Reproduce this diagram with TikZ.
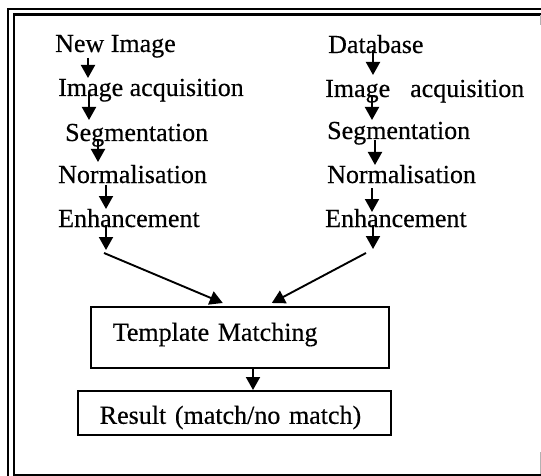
\documentclass[tikz,border=0pt]{standalone}
\usepackage{fontspec}
\setmainfont{Liberation Serif}[FakeBold=0.4]
\usetikzlibrary{arrows.meta,calc}
\begin{document}
\begin{tikzpicture}[x=1pt,y=-1pt,
  font=\fontsize{26}{30}\selectfont,
  lbl/.style={anchor=base west, inner sep=0pt},
  arr/.style={line width=1.9pt, -{Triangle[length=13pt,width=14pt]}},
  box/.style={draw, line width=1.6pt, anchor=north west, inner xsep=22pt, inner ysep=5pt, align=left},
  frame/.style={line width=2.4pt}]
\useasboundingbox (0,0) rectangle (541,476);

% frame
\draw[frame] (8,476) -- (8,9) -- (541,9);
\draw[frame] (541,14.5) -- (14,14.5) -- (14,475) -- (541,475);
\draw[gray!60, line width=1pt] (540,15) -- (540,25);
\draw[gray!60, line width=1pt] (540,452) -- (540,474);

% left column
\node[lbl] (L1) at (55,52) {New Image};
\node[lbl] (L2) at (58,96) {Image acquisition};
\node[lbl] (L3) at (65,141) {Segmentation};
\node[lbl] (L4) at (58,183) {Normalisation};
\node[lbl] (L5) at (58,227) {Enhancement};

% right column
\node[lbl] (R1) at (328,53) {Database};
\node[lbl] (R2) at (325,97) {Image\hspace{20pt}acquisition};
\node[lbl] (R3) at (327,139) {Segmentation};
\node[lbl] (R4) at (327,183) {Normalisation};
\node[lbl] (R5) at (325,227) {Enhancement};

% boxes
\node[box, text width=254pt, text height=29pt, text depth=22pt] (TM) at (90,306) {Template Matching};
\node[box, text width=269pt, text height=28pt, text depth=6pt] (RES) at (77,390) {Result (match/no match)};

% junction points
\coordinate (JL) at (104,253);
\coordinate (JR) at (366,253);

% left arrows
\draw[arr] ($(L1.base west)+(33,6)$) -- ($(L2.base west)+(30,-18)$);
\draw[arr] ($(L2.base west)+(31,-3)$) -- ($(L3.base west)+(24,-21)$);
\draw[arr] ($(L3.base west)+(33,-1)$) -- ($(L4.base west)+(40,-21)$);
\draw[arr] ($(L4.base west)+(48,2)$) -- ($(L5.base west)+(48,-18)$);
\draw[arr] ($(L5.base west)+(48,-2)$) -- ($(JL)+(2,-3)$);
\draw[arr] (JL) -- ($(TM.north)+(-17,-3)$);

% right arrows
\draw[arr] ($(R1.base west)+(45,-3)$) -- ($(R2.base west)+(48,-22)$);
\draw[arr] ($(R2.base west)+(47,-2)$) -- ($(R3.base west)+(45,-19)$);
\draw[arr] ($(R3.base west)+(48,1)$) -- ($(R4.base west)+(48,-18)$);
\draw[arr] ($(R4.base west)+(45,5)$) -- ($(R5.base west)+(47,-15)$);
\draw[arr] ($(R5.base west)+(48,-2)$) -- ($(JR)+(7,-4)$);
\draw[arr] (JR) -- ($(TM.north)+(32,-3)$);

% template matching to result
\draw[arr] ($(TM.south west)+(163,0)$) coordinate (TMo) -- (TMo |- RES.north);
\end{tikzpicture}
\end{document}
